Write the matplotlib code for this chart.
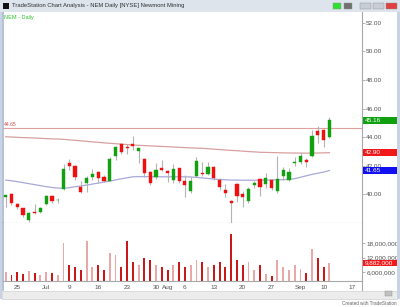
import matplotlib
matplotlib.use('Agg')
import matplotlib.pyplot as plt
from matplotlib.patches import Rectangle
from matplotlib.lines import Line2D

W, H = 400, 307

# ---------------- data ----------------
opens = [39.77, 40.00, 39.28, 38.99, 38.18, 38.76, 38.76, 39.30, 39.86, 39.56,
         40.33, 42.15, 41.99, 40.51, 40.75, 41.21, 41.54, 41.17, 40.93, 42.67,
         43.49, 43.32, 43.51, 43.04, 42.43, 41.56, 41.17, 41.84, 41.61, 40.98,
         41.80, 40.91, 40.23, 41.26, 41.50, 41.40, 41.87, 40.98, 40.26, 39.53,
         40.68, 40.00, 39.53, 40.61, 41.05, 40.70, 40.98, 40.23, 41.26, 40.98,
         42.15, 42.22, 42.39, 42.69, 44.44, 44.49, 43.98]
highs = [39.95, 40.05, 39.35, 39.05, 38.76, 39.28, 39.10, 39.93, 39.90, 39.70,
         42.08, 42.43, 42.03, 40.91, 41.25, 41.73, 41.60, 41.35, 42.60, 43.40,
         43.60, 43.49, 44.07, 43.25, 42.53, 41.65, 42.15, 42.39, 41.70, 42.10,
         41.85, 41.35, 41.21, 42.60, 42.27, 42.27, 41.95, 41.10, 40.67, 39.60,
         40.79, 40.20, 40.47, 40.90, 41.10, 41.45, 41.05, 42.67, 41.87, 41.80,
         42.62, 42.97, 42.50, 44.49, 44.77, 44.55, 45.42]
lows = [39.07, 39.23, 38.95, 38.36, 38.06, 38.60, 38.65, 39.23, 39.40, 39.35,
        40.28, 41.68, 41.00, 40.10, 40.16, 40.98, 40.79, 40.85, 40.90, 42.40,
        42.84, 42.84, 43.09, 42.15, 41.21, 40.60, 41.08, 41.60, 40.86, 40.75,
        40.80, 39.77, 40.10, 41.20, 41.28, 41.33, 41.00, 40.28, 39.77, 37.90,
        39.46, 39.11, 39.39, 40.40, 39.86, 40.40, 40.28, 40.05, 40.98, 40.93,
        41.98, 42.10, 41.87, 42.60, 43.56, 43.32, 43.90]
closes = [39.93, 39.39, 39.11, 38.53, 38.69, 38.65, 39.04, 39.86, 39.53, 39.60,
          41.73, 41.99, 41.17, 40.16, 41.10, 41.40, 41.10, 40.93, 42.46, 43.32,
          42.97, 43.21, 43.37, 43.21, 41.49, 40.75, 41.68, 41.68, 41.50, 41.73,
          40.91, 40.63, 40.93, 42.34, 41.43, 41.87, 41.10, 40.47, 40.09, 39.39,
          39.86, 39.81, 40.33, 40.75, 40.51, 41.14, 40.40, 41.03, 41.68, 41.52,
          42.27, 42.67, 42.27, 44.07, 44.14, 43.79, 45.16]
# volume in millions of shares
volume = [6.0, 4.8, 6.0, 5.0, 6.5, 5.5, 4.8, 6.0, 5.5, 4.6,
          18.0, 9.0, 8.0, 7.0, 19.0, 8.0, 9.0, 7.0, 14.0, 13.0,
          8.0, 19.0, 10.0, 9.0, 12.0, 11.0, 9.0, 8.0, 7.0, 9.0,
          10.0, 8.0, 9.0, 11.0, 10.0, 8.0, 9.0, 10.0, 8.0, 22.0,
          11.0, 9.0, 10.0, 7.0, 9.0, 5.2, 4.3, 11.0, 8.0, 7.0,
          9.0, 7.3, 5.7, 15.7, 12.0, 8.0, 9.882]
ma_fast = [40.98, 40.93, 40.87, 40.80, 40.73, 40.66, 40.59, 40.52, 40.46, 40.42,
           40.40, 40.45, 40.51, 40.57, 40.63, 40.70, 40.77, 40.84, 40.91, 40.99,
           41.07, 41.14, 41.21, 41.22, 41.22, 41.22, 41.21, 41.21, 41.21, 41.21,
           41.21, 41.21, 41.20, 41.17, 41.13, 41.09, 41.05, 41.02, 41.00, 40.98,
           40.98, 40.97, 40.97, 40.97, 40.98, 40.98, 40.99, 41.00, 41.01, 41.03,
           41.08, 41.18, 41.28, 41.38, 41.46, 41.54, 41.65]
ma_slow = [44.02, 44.00, 43.98, 43.96, 43.95, 43.93, 43.91, 43.89, 43.87, 43.86,
           43.84, 43.80, 43.77, 43.73, 43.70, 43.66, 43.63, 43.59, 43.56, 43.53,
           43.50, 43.47, 43.44, 43.42, 43.40, 43.38, 43.36, 43.34, 43.32, 43.30,
           43.28, 43.26, 43.24, 43.22, 43.21, 43.18, 43.15, 43.12, 43.09, 43.06,
           43.04, 43.01, 42.98, 42.96, 42.93, 42.92, 42.91, 42.90, 42.89, 42.88,
           42.88, 42.87, 42.87, 42.87, 42.88, 42.89, 42.90]
level = 44.65
date_pos = [2, 7, 11, 16, 21, 26, 28, 31, 36, 41, 46, 51, 55, 60]
date_labels = ['25', 'Jul', '9', '16', '23', '30', 'Aug', '6', '13', '20', '27', 'Sep', '10', '17']
price_ticks = [40, 42, 44, 46, 48, 50, 52]
vol_ticks = [6, 12, 18]

# ---------------- styling ----------------
FONT = 'Liberation Sans'
GREEN = '#10a010'
RED = '#f01010'
WICK = '#b4b4b4'
AXC = '#a8a8a8'
TXT = '#505050'

fig = plt.figure(figsize=(W / 100, H / 100), dpi=100)
fig.patch.set_facecolor('white')


def fr(x0, y0, x1, y1):
    return [x0 / W, 1 - y1 / H, (x1 - x0) / W, (y1 - y0) / H]


def fx(x):
    return x / W


def fy(y):
    return 1 - y / H


# window chrome: title bar
fig.patches.append(Rectangle((0, fy(11.5)), 1, 11.5 / H, transform=fig.transFigure,
                             facecolor='#dde4ec', edgecolor='none', zorder=0))
fig.patches.append(Rectangle((fx(3), fy(9)), 6 / W, 6 / H, transform=fig.transFigure,
                             facecolor='#101010', edgecolor='none'))
fig.text(fx(12), fy(5.8), 'TradeStation Chart Analysis - NEM Daily [NYSE] Newmont Mining',
         fontsize=4.2, family=FONT, color='#303030', va='center', ha='left')
for x0, x1, c in [(333, 341, '#30e030'), (344, 352, '#707070'), (360, 371, '#c8ccd4'),
                  (373, 384, '#c8ccd4'), (386, 397, '#e04040')]:
    fig.patches.append(Rectangle((fx(x0), fy(9)), (x1 - x0) / W, 6 / H,
                                 transform=fig.transFigure, facecolor=c, edgecolor='#909090',
                                 linewidth=0.3))
# side borders
fig.patches.append(Rectangle((0, fy(299)), 2 / W, (299 - 11.5) / H, transform=fig.transFigure,
                             facecolor='#c8d4e4', edgecolor='none'))
fig.patches.append(Rectangle((fx(397), fy(299)), 3 / W, (299 - 11.5) / H, transform=fig.transFigure,
                             facecolor='#c8d4e4', edgecolor='none'))
# bottom scroll area
fig.patches.append(Rectangle((fx(2), fy(299)), 395 / W, 8.5 / H, transform=fig.transFigure,
                             facecolor='#ececec', edgecolor='#c8c8c8', linewidth=0.4))
fig.patches.append(Rectangle((fx(385), fy(296)), 7 / W, 5 / H, transform=fig.transFigure,
                             facecolor='#c0c0c0', edgecolor='#909090', linewidth=0.3))
fig.text(fx(397), fy(303.5), 'Created with TradeStation', fontsize=3.3, family=FONT,
         color='#606060', ha='right', va='center')

# ---------------- price panel ----------------
axp = fig.add_axes(fr(3, 12, 362, 222.7))
axv = fig.add_axes(fr(3, 222.7, 362, 280.7), sharex=axp)
n = len(closes)
idx = list(range(n))
xlim = (-0.47, 61.64)

axp.axhline(level, color='#e0a0a0', lw=0.8, zorder=1)
axp.plot(idx, ma_slow, color='#d8a0a0', lw=0.9, zorder=1)
axp.plot(idx, ma_fast, color='#a8a8d8', lw=0.9, zorder=1)
axp.vlines(idx, lows, highs, color=WICK, lw=0.8, zorder=2)
for i in idx:
    o, c = opens[i], closes[i]
    col = GREEN if c >= o else RED
    lo, hi = min(o, c), max(o, c)
    if hi - lo < 0.06:
        lo, hi = (lo + hi) / 2 - 0.03, (lo + hi) / 2 + 0.03
    axp.bar(i, hi - lo, bottom=lo, width=0.55, color=col, edgecolor=col, lw=0.3, zorder=3)

axp.set_xlim(*xlim)
axp.set_ylim(37.99, 52.77)
axp.set_yticks(price_ticks)
axp.set_yticklabels(['%.2f' % t for t in price_ticks])
axp.yaxis.tick_right()
axp.tick_params(axis='y', length=2, width=0.6, color=AXC, labelsize=4.6, labelcolor=TXT, pad=1)
axp.tick_params(axis='x', length=0, labelbottom=False)
for s in ['top']:
    axp.spines[s].set_visible(False)
axp.spines['left'].set_color('#a8b8d0')
axp.spines['left'].set_linewidth(1.2)
axp.spines['right'].set_color(AXC)
axp.spines['right'].set_linewidth(0.8)
axp.spines['bottom'].set_color(AXC)
axp.spines['bottom'].set_linewidth(0.8)
for lab in axp.get_yticklabels():
    lab.set_family(FONT)

axp.text(0.003, level + 0.08, '%.2f' % level, transform=axp.get_yaxis_transform(),
         fontsize=3.6, family=FONT, color='#d05050', va='bottom', ha='left')
axp.text(0.003, 0.985, 'NEM - Daily', transform=axp.transAxes, fontsize=4.0, family=FONT,
         color='#30c030', va='top', ha='left')


def value_box(ax, yval, text, color, height):
    tr = ax.get_yaxis_transform()
    ax.add_patch(Rectangle((1.003, yval - height / 2), 33.5 / 359, height, transform=tr,
                           facecolor=color, edgecolor='none', clip_on=False, zorder=5))
    ax.text(1.008, yval, text, transform=tr, fontsize=4.6, family=FONT, color='white',
            va='center', ha='left', clip_on=False, zorder=6)


value_box(axp, closes[-1], '%.2f' % closes[-1], '#10a010', 0.46)
value_box(axp, ma_slow[-1], '%.2f' % ma_slow[-1], '#f01818', 0.46)
value_box(axp, ma_fast[-1], '%.2f' % ma_fast[-1], '#1010f0', 0.46)

# ---------------- volume panel ----------------
vcols = ['#c81818' if closes[i] < opens[i] else '#e8a8a8' for i in idx]
axv.bar(idx, volume, width=0.33, color=vcols, edgecolor='none', zorder=2)
axv.set_ylim(2.35, 26.69)
axv.set_yticks(vol_ticks)
axv.set_yticklabels(['{:,}'.format(int(t * 1e6)) for t in vol_ticks])
axv.yaxis.tick_right()
axv.tick_params(axis='y', length=2, width=0.6, color=AXC, labelsize=4.6, labelcolor=TXT, pad=1)
axv.set_xticks(date_pos)
axv.set_xticklabels(date_labels)
axv.tick_params(axis='x', length=0, labelsize=4.6, labelcolor=TXT, pad=3)
axv.set_xlim(*xlim)
axv.spines['top'].set_visible(False)
axv.spines['left'].set_color('#a8b8d0')
axv.spines['left'].set_linewidth(1.2)
axv.spines['right'].set_color(AXC)
axv.spines['right'].set_linewidth(0.8)
axv.spines['bottom'].set_color(AXC)
axv.spines['bottom'].set_linewidth(0.8)
for lab in axv.get_yticklabels() + axv.get_xticklabels():
    lab.set_family(FONT)
value_box(axv, volume[-1], '{:,}'.format(int(round(volume[-1] * 1e6))), '#f01818', 2.6)

# axis line continuing through the date strip
fig.lines.append(Line2D([fx(362), fx(362)], [fy(280.7), fy(290)], transform=fig.transFigure,
                        color=AXC, lw=0.8))
fig.lines.append(Line2D([fx(3), fx(3)], [fy(280.7), fy(290)], transform=fig.transFigure,
                        color='#a8b8d0', lw=1.2))

fig.savefig('out.png', dpi=100)
